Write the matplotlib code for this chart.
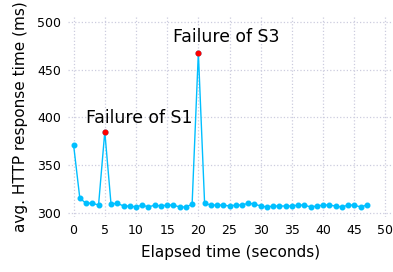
import matplotlib
matplotlib.use('Agg')
import matplotlib.pyplot as plt
from matplotlib.ticker import MultipleLocator

# elapsed seconds and avg response time (ms)
seconds = list(range(48))
response_ms = [371, 315, 310, 310, 308, 385, 309, 310, 307, 307,
               306, 308, 306, 308, 307, 308, 308, 306, 306, 309,
               468, 310, 308, 308, 308, 307, 308, 308, 310, 309,
               307, 306, 307, 307, 307, 307, 308, 308, 306, 307,
               308, 308, 307, 306, 308, 308, 306, 308]

failure_idx = [5, 20]
failure_labels = ['Failure of S1', 'Failure of S3']
label_pos = [(10.5, 394.4), (24.4, 479.3)]

fig = plt.figure(figsize=(3.93, 2.72), dpi=100)
ax = fig.add_axes([0.1738, 0.2022, 0.8237, 0.7388])

ax.plot(seconds, response_ms, color='#00bfff', lw=1.0, marker='o', ms=3.3, zorder=3)
ax.plot([seconds[i] for i in failure_idx], [response_ms[i] for i in failure_idx],
        ls='none', marker='o', ms=3.3, color='red', zorder=4)

for (x, y), txt in zip(label_pos, failure_labels):
    ax.text(x, y, txt, ha='center', va='baseline', fontsize=12.4)

ax.set_xlim(-0.85, 51.05)
ax.set_ylim(295.5, 506.3)
ax.xaxis.set_major_locator(MultipleLocator(5))
ax.yaxis.set_major_locator(MultipleLocator(50))

for s in ax.spines.values():
    s.set_visible(False)
ax.tick_params(length=0, labelsize=9, pad=5)
ax.grid(True, color='#ccccdf', ls=':', lw=0.9)
ax.set_axisbelow(True)

ax.set_xlabel('Elapsed time (seconds)', fontsize=11, labelpad=6)
ax.set_ylabel('avg. HTTP response time (ms)', fontsize=11, labelpad=7)

fig.savefig('out.png', dpi=100)
